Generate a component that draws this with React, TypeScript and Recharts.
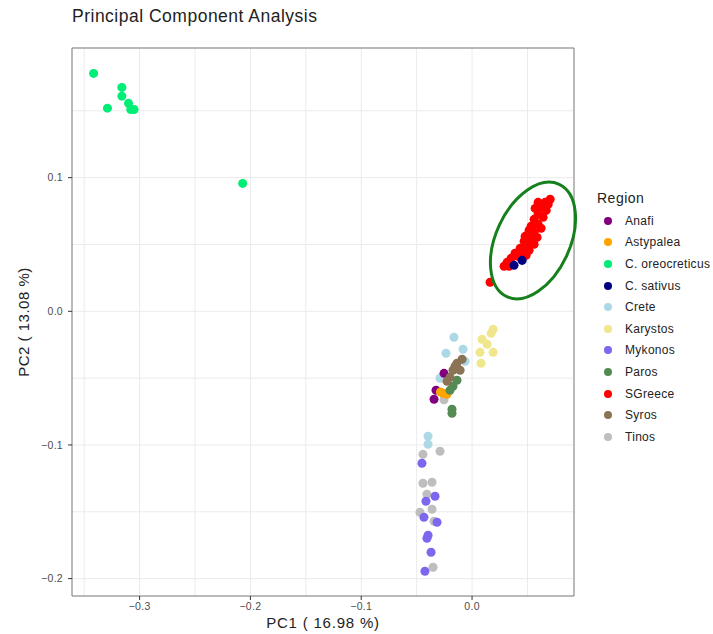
import React from 'react';
import { ScatterChart, Scatter, XAxis, YAxis, ZAxis, CartesianGrid, ReferenceArea, ReferenceDot } from 'recharts';

type Pt = { x: number; y: number };

// PCA scores, one array per region
const anafi: Pt[] = [
  { x: -0.0253, y: -0.0464 }, { x: -0.0325, y: -0.0591 }, { x: -0.0343, y: -0.0658 },
];
const astypalea: Pt[] = [
  { x: -0.0262, y: -0.0613 }, { x: -0.0226, y: -0.0621 }, { x: -0.0285, y: -0.0604 },
];
const oreocreticus: Pt[] = [
  { x: -0.3415, y: 0.178 }, { x: -0.316, y: 0.1675 }, { x: -0.316, y: 0.161 }, { x: -0.31, y: 0.1556 },
  { x: -0.329, y: 0.152 }, { x: -0.308, y: 0.151 }, { x: -0.305, y: 0.151 }, { x: -0.207, y: 0.0957 },
];
const sativus: Pt[] = [
  { x: 0.0452, y: 0.0381 }, { x: 0.0379, y: 0.0344 },
];
const crete: Pt[] = [
  { x: -0.0163, y: -0.0194 }, { x: -0.0235, y: -0.0314 }, { x: -0.0081, y: -0.0284 }, { x: -0.0063, y: -0.0374 },
  { x: -0.0289, y: -0.0501 }, { x: -0.0397, y: -0.0935 }, { x: -0.0397, y: -0.0995 },
];
const karystos: Pt[] = [
  { x: 0.019, y: -0.0135 }, { x: 0.0172, y: -0.0165 }, { x: 0.009, y: -0.0209 }, { x: 0.0136, y: -0.0247 },
  { x: 0.019, y: -0.0307 }, { x: 0.0072, y: -0.0307 }, { x: 0.0081, y: -0.0389 },
];
const mykonos: Pt[] = [
  { x: -0.0452, y: -0.1137 }, { x: -0.0416, y: -0.1421 }, { x: -0.0334, y: -0.1384 }, { x: -0.0434, y: -0.1541 },
  { x: -0.0316, y: -0.1578 }, { x: -0.0397, y: -0.1675 }, { x: -0.0407, y: -0.1698 }, { x: -0.037, y: -0.1803 },
  { x: -0.0425, y: -0.1945 },
];
const paros: Pt[] = [
  { x: -0.0154, y: -0.0426 }, { x: -0.0172, y: -0.0561 }, { x: -0.0199, y: -0.0591 }, { x: -0.0136, y: -0.0516 },
  { x: -0.0181, y: -0.0733 }, { x: -0.0181, y: -0.0763 },
];
const sgreece: Pt[] = [
  { x: 0.0705, y: 0.0838 }, { x: 0.066, y: 0.0815 }, { x: 0.0596, y: 0.0815 }, { x: 0.0687, y: 0.08 },
  { x: 0.0623, y: 0.0778 }, { x: 0.0569, y: 0.077 }, { x: 0.0669, y: 0.0755 }, { x: 0.0596, y: 0.0726 },
  { x: 0.0641, y: 0.0703 }, { x: 0.056, y: 0.0688 }, { x: 0.0596, y: 0.0651 }, { x: 0.0533, y: 0.0636 },
  { x: 0.0623, y: 0.0621 }, { x: 0.0515, y: 0.0606 }, { x: 0.056, y: 0.0591 }, { x: 0.0506, y: 0.0576 },
  { x: 0.0479, y: 0.0561 }, { x: 0.0587, y: 0.0553 }, { x: 0.0533, y: 0.0531 }, { x: 0.047, y: 0.0524 },
  { x: 0.056, y: 0.0501 }, { x: 0.0497, y: 0.0479 }, { x: 0.0434, y: 0.0471 }, { x: 0.0515, y: 0.0456 },
  { x: 0.0461, y: 0.0441 }, { x: 0.0388, y: 0.0434 }, { x: 0.0488, y: 0.0419 }, { x: 0.0416, y: 0.0411 },
  { x: 0.0352, y: 0.0396 }, { x: 0.0316, y: 0.0366 }, { x: 0.0334, y: 0.0337 }, { x: 0.0289, y: 0.0337 },
  { x: 0.0163, y: 0.0217 },
];
const syros: Pt[] = [
  { x: -0.009, y: -0.0359 }, { x: -0.0136, y: -0.0389 }, { x: -0.0108, y: -0.0441 }, { x: -0.0172, y: -0.0441 },
  { x: -0.0199, y: -0.0494 }, { x: -0.0226, y: -0.0524 }, { x: -0.0154, y: -0.0411 },
];
const tinos: Pt[] = [
  { x: -0.0253, y: -0.0662 }, { x: -0.0443, y: -0.107 }, { x: -0.0289, y: -0.1047 }, { x: -0.0443, y: -0.1286 },
  { x: -0.0361, y: -0.1279 }, { x: -0.0407, y: -0.1369 }, { x: -0.047, y: -0.1503 }, { x: -0.0361, y: -0.1481 },
  { x: -0.0343, y: -0.1571 }, { x: -0.0352, y: -0.1915 },
];

// legend order
const regions = [
  { name: 'Anafi', color: '#800080', data: anafi },
  { name: 'Astypalea', color: '#FFA500', data: astypalea },
  { name: 'C. oreocreticus', color: '#00EE76', data: oreocreticus },
  { name: 'C. sativus', color: '#000080', data: sativus },
  { name: 'Crete', color: '#ADD8E6', data: crete },
  { name: 'Karystos', color: '#F0E68C', data: karystos },
  { name: 'Mykonos', color: '#7B68EE', data: mykonos },
  { name: 'Paros', color: '#548B54', data: paros },
  { name: 'SGreece', color: '#FF0000', data: sgreece },
  { name: 'Syros', color: '#8B7355', data: syros },
  { name: 'Tinos', color: '#BEBEBE', data: tinos },
];
// drawing order (later on top)
const drawOrder = ['Crete', 'Karystos', 'Tinos', 'Mykonos', 'Anafi', 'Astypalea', 'Paros', 'Syros', 'C. oreocreticus', 'SGreece', 'C. sativus'];

const xTicks = [-0.35, -0.3, -0.25, -0.2, -0.15, -0.1, -0.05, 0, 0.05];
const yTicks = [-0.2, -0.15, -0.1, -0.05, 0, 0.05, 0.1, 0.15];
const xDomain = [-0.361, 0.092];
const yDomain = [-0.213, 0.197];

const FONT = '"Liberation Sans", Arial, Helvetica, sans-serif';
const isMajor = (v: number) => Math.abs(v * 10 - Math.round(v * 10)) < 1e-6;
const fmt = (v: number) => (v < 0 ? '\u2212' : '') + Math.abs(v).toFixed(1);

const XTick = (props: any) => {
  const { x, y, payload } = props;
  if (!isMajor(payload.value)) return null;
  return (
    <g>
      <line x1={x} x2={x} y1={y - 7} y2={y - 3} stroke="#333" strokeWidth={1} />
      <text x={x} y={y} dy="0.71em" textAnchor="middle" fontSize={10.5} letterSpacing={0.3} fill="#4d4d4d" fontFamily={FONT}>
        {fmt(payload.value)}
      </text>
    </g>
  );
};

const YTick = (props: any) => {
  const { x, y, payload } = props;
  if (!isMajor(payload.value)) return null;
  return (
    <g>
      <line x1={x + 5} x2={x + 9} y1={y} y2={y} stroke="#333" strokeWidth={1} />
      <text x={x} y={y} dy="0.355em" textAnchor="end" fontSize={10.5} letterSpacing={0.3} fill="#4d4d4d" fontFamily={FONT}>
        {fmt(payload.value)}
      </text>
    </g>
  );
};

const App: React.FC = () => {
  return (
    <div style={{ position: 'absolute', left: 0, top: 0, width: 713, height: 634, background: '#fff', fontFamily: FONT }}>
      <div style={{ position: 'absolute', left: 72, top: 6, fontSize: 17.5, letterSpacing: 0.5, color: '#222', whiteSpace: 'nowrap' }}>
        Principal Component Analysis
      </div>

      <ScatterChart width={713} height={634} margin={{ top: 48, right: 139, bottom: 0, left: 0 }}>
        <CartesianGrid stroke="#EBEBEB" strokeWidth={1} />
        <XAxis
          type="number"
          dataKey="x"
          domain={xDomain}
          ticks={xTicks}
          height={38}
          tickSize={4}
          tickMargin={3}
          tickLine={false}
          axisLine={false}
          tick={<XTick />}
          allowDataOverflow
          label={{
            content: (p: any) => (
              <text x={p.viewBox.x + p.viewBox.width / 2} y={p.viewBox.y + 32} textAnchor="middle" fontSize={15} letterSpacing={0.8} fill="#222" fontFamily={FONT}>
                PC1 ( 16.98 %)
              </text>
            ),
          }}
        />
        <YAxis
          type="number"
          dataKey="y"
          domain={yDomain}
          ticks={yTicks}
          width={72}
          tickSize={4}
          tickMargin={5}
          tickLine={false}
          axisLine={false}
          tick={<YTick />}
          allowDataOverflow
          label={{
            content: (p: any) => {
              const cx = p.viewBox.x + 29;
              const cy = p.viewBox.y + p.viewBox.height / 2;
              return (
                <text x={cx} y={cy} transform={`rotate(-90 ${cx} ${cy})`} textAnchor="middle" fontSize={15} letterSpacing={0.5} fill="#222" fontFamily={FONT}>
                  PC2 ( 13.08 %)
                </text>
              );
            },
          }}
        />
        <ZAxis range={[72, 72]} />
        <ReferenceArea x1={xDomain[0]} x2={xDomain[1]} y1={yDomain[0]} y2={yDomain[1]} fill="none" stroke="#7f7f7f" strokeWidth={1} />
        {drawOrder.map((n) => {
          const r = regions.find((s) => s.name === n)!;
          return <Scatter key={n} name={n} data={r.data} fill={r.color} isAnimationActive={false} />;
        })}
        <ReferenceDot
          x={0.055}
          y={0.053}
          shape={(p: any) => (
            <ellipse cx={p.cx} cy={p.cy} rx={37} ry={62} transform={`rotate(25 ${p.cx} ${p.cy})`} fill="none" stroke="#16801c" strokeWidth={3} />
          )}
        />
      </ScatterChart>

      <div style={{ position: 'absolute', left: 597, top: 190 }}>
        <div style={{ fontSize: 14, letterSpacing: 0.5, color: '#222', marginBottom: 4 }}>Region</div>
        {regions.map((r) => (
          <div key={r.name} style={{ display: 'flex', alignItems: 'center', height: 21.6 }}>
            <span style={{ width: 8, height: 8, borderRadius: 4, background: r.color, marginLeft: 7, marginRight: 13 }} />
            <span style={{ fontSize: 12, letterSpacing: 0.3, color: '#222', whiteSpace: 'nowrap' }}>{r.name}</span>
          </div>
        ))}
      </div>
    </div>
  );
};

export default App;
